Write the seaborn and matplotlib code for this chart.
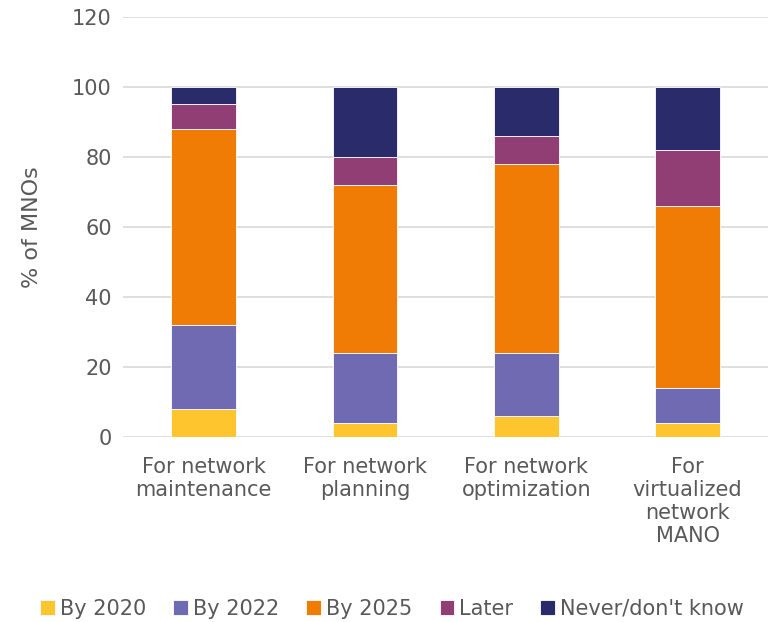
import numpy as np
import seaborn as sns
from matplotlib import pyplot as plt

categories = ["For network\nmaintenance", "For network\nplanning",
              "For network\noptimization", "For\nvirtualized\nnetwork\nMANO"]
series = ["By 2020", "By 2022", "By 2025", "Later", "Never/don't know"]
by_2020 = [8, 4, 6, 4]
by_2022 = [24, 20, 18, 10]
by_2025 = [56, 48, 54, 52]
later = [7, 8, 8, 16]
never = [5, 20, 14, 18]

colors = ["#ffc52f", "#6f6ab2", "#f07c05", "#913e74", "#292b6b"]

sns.set_style("white")
plt.rcParams["font.family"] = ["DejaVu Sans"]
text_color = "#595959"
fs = 15

fig, ax = plt.subplots(figsize=(7.69, 6.22), dpi=100)

bottom = np.zeros(len(categories))
for name, vals, col in zip(series, [by_2020, by_2022, by_2025, later, never], colors):
    sns.barplot(x=categories, y=vals, bottom=bottom, color=col, width=0.4,
                saturation=1, edgecolor="white", linewidth=0.6, label=name, ax=ax)
    bottom += np.array(vals)

ax.set_ylim(0, 120)
ax.set_yticks(range(0, 121, 20))
ax.yaxis.grid(True, color="#d9d9d9", linewidth=1.2)
ax.set_axisbelow(True)
for s in ["top", "right", "left", "bottom"]:
    ax.spines[s].set_visible(False)
ax.tick_params(axis="y", length=0, labelsize=fs, colors=text_color, pad=8)
ax.tick_params(axis="x", length=0, labelsize=fs, colors=text_color, pad=14)
for lbl in ax.get_xticklabels():
    lbl.set_linespacing(1.2)
ax.set_ylabel("% of MNOs", fontsize=fs + 1, color=text_color, labelpad=22)
ax.set_xlim(-0.5, 3.5)

fig.legend(loc="lower center", bbox_to_anchor=(0.51, -0.025), ncol=5, frameon=False,
           fontsize=fs, labelcolor=text_color, handlelength=0.7, handleheight=0.7,
           handletextpad=0.25, columnspacing=1.3)
if ax.legend_:
    ax.legend_.remove()

plt.subplots_adjust(left=0.16, right=0.999, top=0.973, bottom=0.297)
plt.savefig("out.png", dpi=100)
